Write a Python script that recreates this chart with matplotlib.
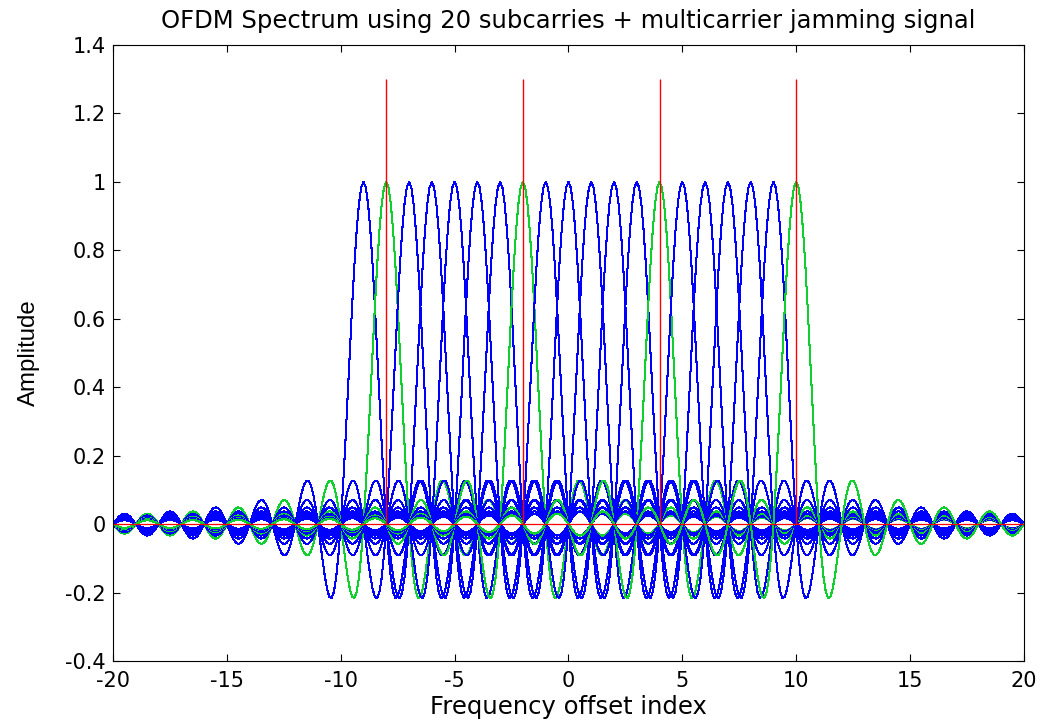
import numpy as np
import matplotlib
matplotlib.use('Agg')
import matplotlib.pyplot as plt

plt.rcParams['font.family'] = ['DejaVu Sans']
plt.rcParams['axes.unicode_minus'] = False

# subcarrier centres (frequency offset index)
subcarriers = np.arange(-9, 11)
# subcarriers hit by the multicarrier jammer
jam_pos = [-8, -2, 4, 10]
jam_amp = 1.3
x_step = 0.1
x_range = (-20, 20)

x = np.arange(x_range[0], x_range[1] + x_step / 2, x_step)

fig = plt.figure(figsize=(10.5, 7.26), dpi=100)
ax = fig.add_axes([0.1076, 0.0895, 0.8676, 0.8485])

for k in subcarriers:
    col = '#10d030' if k in jam_pos else '#0000ff'
    ax.plot(x, np.sinc(x - k), color=col, lw=0.75, antialiased=False)

ax.plot(x, np.zeros_like(x), color='#ff0000', lw=0.9)
ax.vlines(jam_pos, 0, jam_amp, color='#ff0000', lw=1.0)

yt = np.round(np.arange(-0.4, 1.41, 0.2), 1)
ax.set_xlim(-20, 20)
ax.set_ylim(-0.4, 1.4)
ax.set_xticks(np.arange(-20, 21, 5))
ax.set_yticks(yt)
ax.set_yticklabels(['%g' % v for v in yt])
ax.tick_params(direction='in', top=True, right=True, length=5, labelsize=15)
ax.tick_params(axis='x', pad=7)
ax.tick_params(axis='y', pad=5)

ax.set_title('OFDM Spectrum using 20 subcarries + multicarrier jamming signal',
             fontsize=17.5, pad=12.5)
ax.set_xlabel('Frequency offset index', fontsize=17.5, labelpad=3)
ax.set_ylabel('Amplitude', fontsize=17.3, family='Liberation Sans', labelpad=18)

fig.savefig('out.png', dpi=100)
